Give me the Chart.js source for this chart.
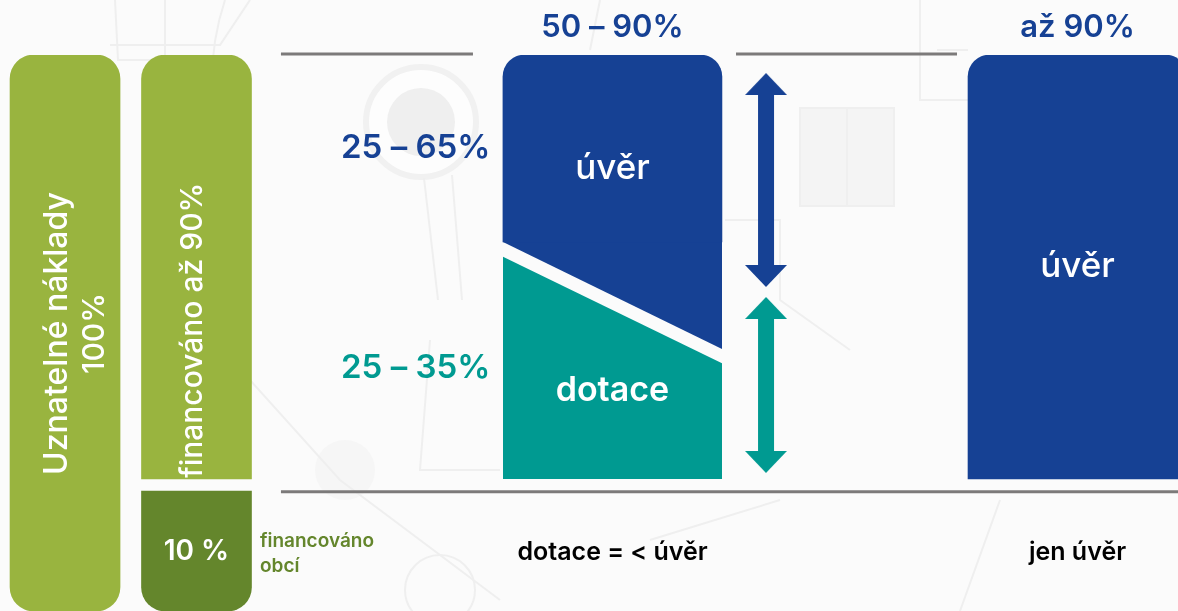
<!DOCTYPE html>
<html lang="cs">
<head>
<meta charset="utf-8">
<title>Financování</title>
<script src="https://cdn.jsdelivr.net/npm/chart.js@4"></script>
<style>
    html, body { margin: 0; padding: 0; background: #fbfbfb; overflow: hidden; }
    #wrap { position: relative; width: 1178px; height: 611px; }
    #bg { position: absolute; left: 0; top: 0; }
    #schema { position: absolute; left: 0; top: 0; }
</style>
</head>
<body>
<div id="wrap">
    <!-- faint town plan behind the chart -->
    <svg id="bg" width="1178" height="611" fill="none" stroke="#efefef" stroke-width="2">
        <path d="M225 0 Q205 60 215 130 M115 0 L118 60 L165 60 L165 0" />
        <path d="M110 45 L220 45 L250 0" />
        <circle cx="421" cy="122" r="55" fill="#fdfdfd" stroke="#f1f1f1" stroke-width="6" />
        <circle cx="421" cy="122" r="34" fill="#efefef" stroke="none" />
        <path d="M424 178 L438 300 M452 175 L462 300" />
        <rect x="800" y="108" width="94" height="98" fill="#f4f4f4" />
        <path d="M847 108 L847 206 M920 0 L920 100 L968 100 M937 50 L968 50" />
        <path d="M725 220 L780 220 L780 300 L850 350 M600 0 L590 50" />
        <circle cx="345" cy="470" r="30" fill="#f6f6f6" stroke="none" />
        <path d="M250 380 L340 480 L500 600 M430 340 L420 470 L500 470 M780 500 L650 540 M1000 500 L960 611" />
        <circle cx="440" cy="590" r="35" />
    </svg>
    <canvas id="schema" width="1178" height="611"></canvas>
</div>
<script>
// --- Data ---
// y is a share of the schematic height, x is a slot across the page (0-100)
const columnSlots = [5.52, 16.68, 16.68];
const columnTops = [100, 100, 21.58];
const columnBottoms = [0, 23.74, 0];

const wideSlots = [51.99, 91.47];
const wideTops = [100, 100];
const wideBottoms = [66.37, 23.74];

const splitSlots = [42.7, 61.29];
const loanEdge = [66.37, 47.12];
const grantEdge = [63.7, 44.55];

const arrowSlots = [65.03, 65.03];
const loanArrow = [94.78, 60.25];
const grantArrow = [54.5, 26.8];

const ruleSlotsTopLeft = [23.85, 40.15];
const ruleSlotsTopRight = [62.48, 81.24];
const ruleSlotsBottom = [23.85, 100];
const ruleTop = [100.18, 100.18];
const ruleBottom = [21.46, 21.46];

const GREEN = '#99b43f';
const DARK_GREEN = '#64862c';
const BLUE = '#164194';
const TEAL = '#009a91';
const RULE = '#7c7a7a';

function pairs(xs, ys) {
    return xs.map((x, i) => ({ x: x, y: ys[i] }));
}

function floats(xs, tops, bottoms) {
    return xs.map((x, i) => ({ x: x, y: [bottoms[i], tops[i]] }));
}

// arrow head used as a point image
function arrowHead(color) {
    const c = document.createElement('canvas');
    c.width = 42;
    c.height = 22;
    const g = c.getContext('2d');
    g.fillStyle = color;
    g.beginPath();
    g.moveTo(21, 0);
    g.lineTo(42, 22);
    g.lineTo(0, 22);
    g.closePath();
    g.fill();
    return c;
}

function ruleSet(xs, ys) {
    return {
        type: 'line', data: pairs(xs, ys), borderColor: RULE, borderWidth: 3,
        pointRadius: 0, clip: false, order: 5
    };
}

function arrowSet(ys, color) {
    return {
        type: 'line', data: pairs(arrowSlots, ys), borderColor: color, borderWidth: 16,
        pointStyle: arrowHead(color), pointRadius: 1, pointRotation: [0, 180],
        clip: false, order: 4
    };
}

function edgeSet(ys, color, target) {
    return {
        type: 'line', data: pairs(splitSlots, ys), borderWidth: 0, borderColor: color,
        backgroundColor: color, pointRadius: 0, tension: 0,
        fill: { value: target }, order: 3
    };
}

// --- Text ---
const labelTotal = ['Uznatelné náklady', '100%'];
const labelFinanced = 'financováno až 90%';
const labelCity = '10 %';
const labelCityNote = ['financováno', 'obcí'];
const labelRanges = ['25 – 65%', '25 – 35%'];
const labelHeads = ['50 – 90%', 'až 90%'];
const labelLoan = 'úvěr';
const labelGrant = 'dotace';
const labelFooters = ['dotace = < úvěr', 'jen úvěr'];

const textPlugin = {
    id: 'textPlugin',
    afterDatasetsDraw(chart) {
        const g = chart.ctx;
        const x = v => chart.scales.x.getPixelForValue(v);
        const y = v => chart.scales.y.getPixelForValue(v);

        function put(text, px, py, font, color, align, rot) {
            g.save();
            g.translate(px, py);
            if (rot) g.rotate(-Math.PI / 2);
            g.font = font + ' Inter';
            g.fillStyle = color;
            g.textAlign = align || 'center';
            g.textBaseline = 'middle';
            g.fillText(text, 0, 0);
            g.restore();
        }

        put(labelTotal[0], x(4.84), y(49.9), '500 32px', '#fff', 'center', true);
        put(labelTotal[1], x(8.06), y(49.9), '500 30px', '#fff', 'center', true);
        put(labelFinanced, x(16.4), y(50.5), '500 30px', '#fff', 'center', true);
        put(labelCity, x(16.68), y(10.6), '600 28px', '#fff');
        put(labelCityNote[0], x(22.07), y(12.6), '600 19px', DARK_GREEN, 'left');
        put(labelCityNote[1], x(22.07), y(8.1), '600 19px', DARK_GREEN, 'left');
        put(labelRanges[0], x(28.95), y(83.2), '600 33px', BLUE, 'left');
        put(labelRanges[1], x(28.95), y(43.7), '600 33px', TEAL, 'left');
        put(labelHeads[0], x(51.99), y(105), '600 31px', BLUE);
        put(labelHeads[1], x(91.47), y(105), '600 31px', BLUE);
        put(labelLoan, x(51.99), y(79.6), '500 35px', '#fff');
        put(labelLoan, x(91.47), y(61.9), '500 35px', '#fff');
        put(labelGrant, x(51.99), y(39.6), '600 34px', '#fff');
        put(labelFooters[0], x(52), y(10.5), '600 25px', '#000');
        put(labelFooters[1], x(91.47), y(10.5), '600 25px', '#000');
    }
};

function corners(r, top, bottom) {
    return {
        topLeft: top ? r : 0, topRight: top ? r : 0,
        bottomLeft: bottom ? r : 0, bottomRight: bottom ? r : 0
    };
}

new Chart(document.getElementById('schema').getContext('2d'), {
    type: 'bar',
    data: {
        datasets: [
            {
                data: floats(columnSlots, columnTops, columnBottoms),
                backgroundColor: [GREEN, GREEN, DARK_GREEN],
                barThickness: 110,
                grouped: false,
                borderSkipped: false,
                borderRadius: [corners(24, true, true), corners(24, true, false), corners(24, false, true)],
                order: 2
            },
            {
                data: floats(wideSlots, wideTops, wideBottoms),
                backgroundColor: BLUE,
                barThickness: 219,
                grouped: false,
                borderSkipped: false,
                borderRadius: [corners(22, true, false), corners(22, true, false)],
                order: 2
            },
            edgeSet(loanEdge, BLUE, wideBottoms[0] + 0.4),
            edgeSet(grantEdge, TEAL, columnBottoms[1]),
            arrowSet(loanArrow, BLUE),
            arrowSet(grantArrow, TEAL),
            ruleSet(ruleSlotsTopLeft, ruleTop),
            ruleSet(ruleSlotsTopRight, ruleTop),
            ruleSet(ruleSlotsBottom, ruleBottom)
        ]
    },
    options: {
        responsive: false,
        animation: false,
        layout: { autoPadding: false, padding: { top: 55 } },
        plugins: { legend: { display: false }, tooltip: { enabled: false } },
        scales: {
            x: { type: 'linear', min: 0, max: 100, offset: false, display: false },
            y: { min: 0, max: 100, display: false }
        }
    },
    plugins: [textPlugin]
});
</script>
</body>
</html>
